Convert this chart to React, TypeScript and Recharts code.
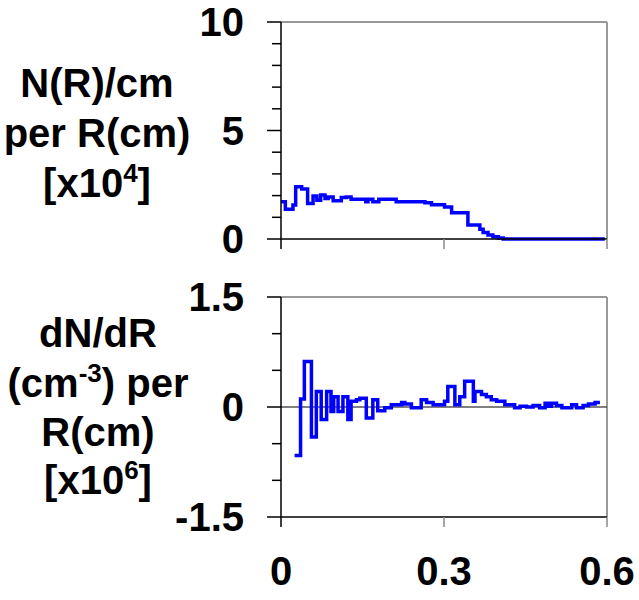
import React from "react";
import { LineChart, Line, XAxis, YAxis, ReferenceLine } from "recharts";

// Top panel: N(R)/cm per R(cm) [x10^4], step series (R breakpoints, values)
const TOP_R = [0, 0.008, 0.022, 0.027, 0.038, 0.049, 0.059, 0.066, 0.073, 0.081, 0.087, 0.096, 0.111, 0.120, 0.129, 0.156, 0.160, 0.169, 0.180, 0.212, 0.265, 0.277, 0.301, 0.314, 0.344, 0.366, 0.372, 0.381, 0.390, 0.400, 0.409, 0.596];
const TOP_N = [1.72, 1.37, 1.57, 2.41, 2.30, 1.64, 1.98, 1.79, 2.03, 1.87, 1.94, 1.76, 1.91, 1.94, 1.83, 1.72, 1.83, 1.72, 1.83, 1.72, 1.67, 1.58, 1.47, 1.21, 0.65, 0.45, 0.30, 0.18, 0.10, 0.05, 0.0, 0.0];

// Bottom panel: dN/dR (cm^-3) per R(cm) [x10^6]
const BOT_R = [0.025, 0.036, 0.043, 0.056, 0.065, 0.074, 0.084, 0.092, 0.097, 0.105, 0.114, 0.123, 0.129, 0.139, 0.145, 0.157, 0.169, 0.178, 0.191, 0.203, 0.222, 0.228, 0.240, 0.258, 0.268, 0.280, 0.301, 0.307, 0.320, 0.329, 0.338, 0.354, 0.357, 0.369, 0.378, 0.387, 0.397, 0.412, 0.430, 0.440, 0.452, 0.464, 0.476, 0.486, 0.492, 0.498, 0.507, 0.517, 0.535, 0.544, 0.556, 0.566, 0.578, 0.587];
const BOT_D = [-0.66, 0.11, 0.62, -0.41, 0.21, -0.17, 0.21, -0.06, 0.14, -0.06, 0.14, -0.17, 0.08, 0.10, 0.12, -0.15, 0.10, -0.05, -0.01, 0.03, 0.06, 0.04, -0.01, 0.10, 0.06, 0.03, 0.08, 0.28, 0.03, 0.14, 0.35, 0.08, 0.21, 0.17, 0.14, 0.10, 0.08, 0.03, -0.01, 0.01, 0.0, 0.02, -0.01, 0.05, 0.01, 0.05, 0.02, -0.01, 0.03, -0.01, 0.02, 0.04, 0.06, 0.06];

const X_TICKS = [0, 0.3, 0.6];
const X_TICK_LABELS = ["0", "0.3", "0.6"];
const TOP_Y_TICKS = [0, 1, 2, 3, 4, 5, 6, 7, 8, 9, 10];
const TOP_Y_MAJOR = [0, 5, 10];
const TOP_Y_LABELS = ["0", "5", "10"];
const BOT_Y_TICKS = [-1.5, -1, -0.5, 0, 0.5, 1, 1.5];
const BOT_Y_MAJOR = [-1.5, 0, 1.5];
const BOT_Y_LABELS = ["-1.5", "0", "1.5"];

const topData = TOP_R.map((r, i) => ({ r, v: TOP_N[i] }));
const botData = BOT_R.map((r, i) => ({ r, v: BOT_D[i] }));

const FONT = "'Liberation Sans', Arial, sans-serif";

function makeYTick(majors: number[], labels: string[]) {
  return (props: any) => {
    const { x, y, payload } = props;
    const idx = majors.indexOf(payload.value);
    const major = idx >= 0;
    return (
      <g>
        <line x1={x - (major ? 14 : 9)} x2={x} y1={y} y2={y} stroke="#000" strokeWidth={1.5} />
        {major && (
          <text x={x - 37} y={y} dy="0.36em" textAnchor="end" fontFamily={FONT} fontWeight="bold" fontSize={40} fill="#000">
            {labels[idx]}
          </text>
        )}
      </g>
    );
  };
}

function makeXTick(showLabels: boolean) {
  return (props: any) => {
    const { x, y, payload } = props;
    const idx = X_TICKS.indexOf(payload.value);
    return (
      <g>
        <line x1={x} x2={x} y1={y} y2={y + 10} stroke={payload.value === 0 ? "#000" : "#888"} strokeWidth={1.5} />
        {showLabels && idx >= 0 && (
          <text x={x} y={y + 68} textAnchor="middle" fontFamily={FONT} fontWeight="bold" fontSize={40} fill="#000">
            {X_TICK_LABELS[idx]}
          </text>
        )}
      </g>
    );
  };
}

const titleStyle = { fontFamily: FONT, fontWeight: "bold" as const, fontSize: 40, fill: "#000" };

export default function App() {
  return (
    <div style={{ position: "absolute", left: 0, top: 0, width: 639, height: 600, background: "#fff" }}>
      <div style={{ position: "absolute", left: 0, top: 0 }}>
        <LineChart width={639} height={260} data={topData} margin={{ top: 22, right: 32, bottom: 11, left: 221 }}>
          <XAxis
            dataKey="r"
            type="number"
            domain={[0, 0.6]}
            ticks={X_TICKS}
            interval={0}
            height={10}
            tickSize={0}
            tickMargin={0}
            tickLine={false}
            axisLine={{ stroke: "#000", strokeWidth: 1.5 }}
            tick={makeXTick(false)}
          />
          <YAxis
            type="number"
            domain={[0, 10]}
            ticks={TOP_Y_TICKS}
            interval={0}
            width={60}
            tickSize={0}
            tickMargin={0}
            tickLine={false}
            axisLine={{ stroke: "#000", strokeWidth: 1.5 }}
            tick={makeYTick(TOP_Y_MAJOR, TOP_Y_LABELS)}
          />
          <ReferenceLine y={10} stroke="#999" strokeWidth={2} />
          <ReferenceLine x={0.6} stroke="#999" strokeWidth={2} />
          <Line type="stepAfter" dataKey="v" stroke="#0000ff" strokeWidth={3.5} dot={false} isAnimationActive={false} />
        </LineChart>
      </div>
      <div style={{ position: "absolute", left: 0, top: 260 }}>
        <LineChart width={639} height={340} data={botData} margin={{ top: 37, right: 32, bottom: 73, left: 221 }}>
          <XAxis
            dataKey="r"
            type="number"
            domain={[0, 0.6]}
            ticks={X_TICKS}
            interval={0}
            height={10}
            tickSize={0}
            tickMargin={0}
            tickLine={false}
            axisLine={{ stroke: "#000", strokeWidth: 1.5 }}
            tick={makeXTick(true)}
          />
          <YAxis
            type="number"
            domain={[-1.5, 1.5]}
            ticks={BOT_Y_TICKS}
            interval={0}
            width={60}
            tickSize={0}
            tickMargin={0}
            tickLine={false}
            axisLine={{ stroke: "#000", strokeWidth: 1.5 }}
            tick={makeYTick(BOT_Y_MAJOR, BOT_Y_LABELS)}
          />
          <ReferenceLine y={1.5} stroke="#999" strokeWidth={2} />
          <ReferenceLine x={0.6} stroke="#999" strokeWidth={2} />
          <ReferenceLine y={0} stroke="#555" strokeWidth={1.5} />
          <Line type="stepAfter" dataKey="v" stroke="#0000ff" strokeWidth={3.5} dot={false} isAnimationActive={false} />
        </LineChart>
      </div>
      <svg width={639} height={600} style={{ position: "absolute", left: 0, top: 0, pointerEvents: "none" }}>
        <g textAnchor="middle" {...titleStyle}>
          <text x={97} y={97}>N(R)/cm</text>
          <text x={97} y={147}>per R(cm)</text>
          <text x={97} y={197}>
            [x10<tspan dy={-15} fontSize={26}>4</tspan><tspan dy={15}>]</tspan>
          </text>
          <text x={98} y={347}>dN/dR</text>
          <text x={98} y={397}>
            (cm<tspan dy={-15} fontSize={26}>-3</tspan><tspan dy={15}>) per</tspan>
          </text>
          <text x={98} y={446}>R(cm)</text>
          <text x={98} y={494}>
            [x10<tspan dy={-15} fontSize={26}>6</tspan><tspan dy={15}>]</tspan>
          </text>
        </g>
      </svg>
    </div>
  );
}
